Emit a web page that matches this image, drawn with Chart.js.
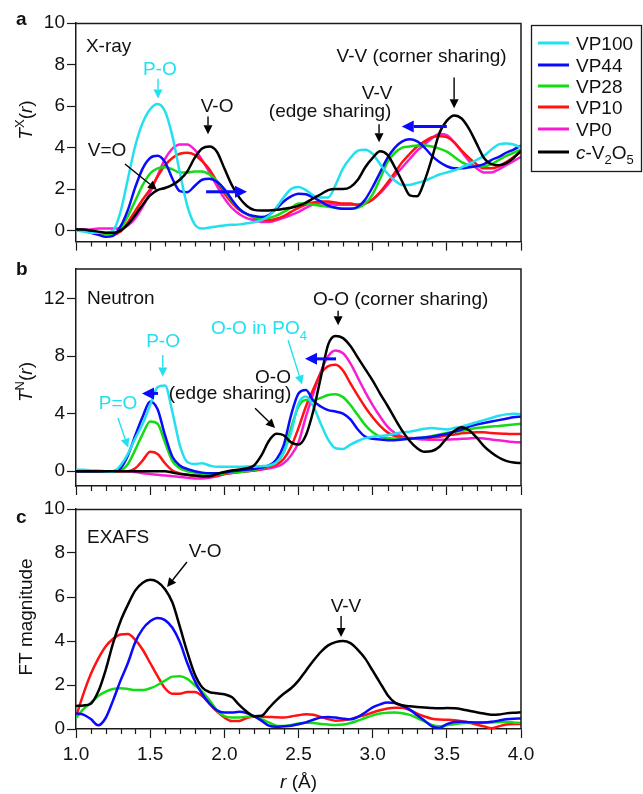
<!DOCTYPE html>
<html>
<head>
<meta charset="utf-8">
<script src="https://cdn.jsdelivr.net/npm/chart.js@4.4.1/dist/chart.umd.min.js"></script>
<style>
  html, body { margin: 0; padding: 0; background: #fff; }
  #wrap { position: relative; width: 643px; height: 794px; overflow: hidden; }
  #wrap canvas { position: absolute; left: 0; }
</style>
</head>
<body>
<div id="wrap">
  <canvas id="panelA" width="643" height="255" style="top:0px"></canvas>
  <canvas id="panelB" width="643" height="245" style="top:255px"></canvas>
  <canvas id="panelC" width="643" height="299" style="top:495px"></canvas>
</div>
<script>
// r grid (Å) shared by every curve
const rValues = [1.00,1.05,1.10,1.15,1.20,1.25,1.30,1.35,1.40,1.45,1.50,1.55,1.60,1.65,1.70,1.75,1.80,1.85,1.90,1.95,
  2.00,2.05,2.10,2.15,2.20,2.25,2.30,2.35,2.40,2.45,2.50,2.55,2.60,2.65,2.70,2.75,2.80,2.85,2.90,2.95,
  3.00,3.05,3.10,3.15,3.20,3.25,3.30,3.35,3.40,3.45,3.50,3.55,3.60,3.65,3.70,3.75,3.80,3.85,3.90,3.95,4.00];

const rMajor = [1.0, 1.5, 2.0, 2.5, 3.0, 3.5, 4.0];
const rMinor = [1.1,1.2,1.3,1.4,1.6,1.7,1.8,1.9,2.1,2.2,2.3,2.4,2.6,2.7,2.8,2.9,3.1,3.2,3.3,3.4,3.6,3.7,3.8,3.9];
const yTicksA = [0, 2, 4, 6, 8, 10];
const yTicksB = [0, 4, 8, 12];
const yTicksC = [0, 2, 4, 6, 8, 10];

const seriesNames = ['VP100', 'VP44', 'VP28', 'VP10', 'VP0', 'c-V2O5'];

// a: X-ray T(r)
const xrayVP100 = [0.0,-0.05,-0.1,-0.1,-0.1,0.0,0.9,2.5,4.1,5.2,5.85,6.1,5.75,4.55,2.8,1.2,0.3,0.1,0.15,0.2,0.25,0.28,0.3,0.35,0.4,0.5,0.7,1.1,1.6,2.0,2.1,1.95,1.7,1.6,1.6,2.2,3.0,3.5,3.85,3.9,3.7,3.2,2.75,2.4,2.2,2.2,2.3,2.4,2.55,2.7,2.8,2.9,3.05,3.2,3.4,3.6,3.9,4.15,4.2,4.15,4.0];
const xrayVP44 = [0.05,0.0,-0.1,-0.2,-0.3,-0.25,0.2,1.0,2.1,3.0,3.5,3.6,3.3,2.5,1.9,1.85,2.15,2.45,2.5,2.35,2.0,1.5,1.05,0.8,0.7,0.65,0.75,1.05,1.4,1.65,1.78,1.75,1.6,1.4,1.2,1.1,1.05,1.05,1.15,1.5,2.1,2.8,3.5,4.0,4.3,4.4,4.3,4.0,3.6,3.3,3.1,3.0,3.0,3.05,3.1,3.2,3.4,3.55,3.75,3.9,4.1];
const xrayVP28 = [0.05,0.0,-0.05,-0.1,-0.15,-0.15,0.1,0.7,1.45,2.2,2.75,3.0,3.05,2.95,2.8,2.8,2.85,2.85,2.7,2.4,1.95,1.45,1.05,0.8,0.65,0.57,0.6,0.72,0.9,1.1,1.3,1.3,1.25,1.2,1.15,1.1,1.05,1.05,1.1,1.3,1.75,2.5,3.3,3.75,4.0,4.05,4.1,4.1,4.05,3.95,3.8,3.55,3.3,3.15,3.1,3.1,3.2,3.4,3.6,3.75,3.9];
const xrayVP10 = [0.05,0.0,-0.05,-0.1,-0.15,-0.2,-0.05,0.4,0.95,1.5,2.0,2.6,3.15,3.5,3.7,3.75,3.65,3.35,2.95,2.35,1.8,1.35,1.0,0.8,0.62,0.52,0.5,0.57,0.7,0.9,1.1,1.25,1.35,1.4,1.4,1.35,1.3,1.3,1.25,1.3,1.5,1.85,2.3,2.8,3.3,3.7,4.05,4.3,4.5,4.55,4.5,4.25,3.85,3.5,3.2,3.0,3.0,3.1,3.3,3.55,3.8];
const xrayVP0 = [0.05,0.05,0.05,0.1,0.1,0.1,0.1,0.25,0.6,1.15,1.85,2.65,3.45,3.95,4.15,4.15,3.9,3.4,2.8,2.15,1.55,1.1,0.8,0.6,0.5,0.42,0.42,0.5,0.62,0.75,0.9,1.1,1.25,1.3,1.3,1.25,1.25,1.25,1.25,1.35,1.5,1.8,2.2,2.65,3.05,3.45,3.85,4.15,4.45,4.65,4.6,4.25,3.8,3.35,3.0,2.8,2.8,2.95,3.15,3.35,3.55];
const xrayV2O5 = [0.05,0.05,0.0,-0.05,-0.1,-0.1,0.0,0.3,0.75,1.25,1.7,1.95,2.05,2.2,2.45,2.85,3.5,3.95,4.05,3.8,3.0,2.2,1.6,1.2,1.0,0.97,0.97,1.0,1.05,1.1,1.2,1.35,1.55,1.75,1.95,2.0,2.0,2.1,2.45,3.05,3.5,3.82,3.65,3.05,2.35,1.7,1.65,2.4,3.5,4.7,5.3,5.55,5.4,4.9,4.2,3.5,3.2,3.15,3.25,3.5,3.85];

// b: neutron T(r)
const neutronVP100 = [0.1,0.1,0.05,0.05,0.0,-0.05,0.4,1.2,2.3,3.3,4.6,5.85,5.95,4.1,1.8,0.65,0.5,0.55,0.4,0.3,0.3,0.3,0.3,0.32,0.34,0.35,0.4,0.6,1.3,2.7,4.7,5.2,4.5,3.3,2.2,1.6,1.55,1.85,2.1,2.3,2.4,2.45,2.5,2.6,2.7,2.75,2.85,2.95,3.0,2.95,2.9,3.0,3.1,3.25,3.4,3.55,3.7,3.85,3.95,4.0,3.95];
const neutronVP44 = [0,0,0,0,0,0,0.2,1.1,2.5,3.8,4.85,4.3,2.5,1.0,0.4,0.15,0.0,-0.1,-0.15,-0.15,-0.1,0.0,0.05,0.1,0.15,0.25,0.4,0.8,1.8,3.9,5.4,5.65,4.9,4.5,4.25,4.15,4.0,3.6,2.9,2.4,2.25,2.2,2.15,2.15,2.2,2.25,2.3,2.35,2.4,2.5,2.6,2.75,2.9,3.1,3.25,3.35,3.45,3.55,3.65,3.75,3.8];
const neutronVP28 = [0,0,0,0,0,0,0.05,0.5,1.5,2.6,3.45,3.3,2.0,0.7,0.2,0.0,-0.1,-0.2,-0.2,-0.2,-0.15,-0.1,-0.05,0.0,0.08,0.2,0.35,0.6,1.3,3.0,4.5,4.95,4.95,5.1,5.3,5.35,5.15,4.6,3.9,3.2,2.7,2.4,2.3,2.25,2.25,2.28,2.3,2.35,2.45,2.55,2.65,2.75,2.8,2.9,3.0,3.05,3.1,3.15,3.2,3.25,3.3];
const neutronVP10 = [0,0,0,0,0,0,0,0,0.2,0.75,1.35,1.2,0.55,0.05,-0.15,-0.25,-0.32,-0.38,-0.37,-0.3,-0.2,-0.12,-0.06,0.0,0.05,0.15,0.3,0.45,0.85,1.7,3.0,4.5,5.7,6.8,7.3,7.4,7.0,6.1,5.25,4.45,3.75,3.15,2.7,2.45,2.35,2.3,2.28,2.3,2.35,2.4,2.5,2.55,2.63,2.68,2.7,2.7,2.65,2.62,2.6,2.58,2.58];
const neutronVP0 = [0,0,0,0,0,0,0,0,-0.05,-0.15,-0.2,-0.25,-0.3,-0.35,-0.4,-0.45,-0.5,-0.5,-0.45,-0.35,-0.2,-0.12,-0.05,0.0,0.05,0.1,0.2,0.3,0.55,1.1,2.0,3.8,5.4,6.9,8.0,8.4,8.2,7.5,6.5,5.5,4.6,3.8,3.1,2.65,2.4,2.28,2.24,2.2,2.18,2.18,2.2,2.22,2.25,2.28,2.3,2.28,2.2,2.15,2.08,2.03,2.0];
const neutronV2O5 = [0,0,0,0,0,0,0,0,0,0,0,0,0,-0.1,-0.2,-0.25,-0.3,-0.35,-0.35,-0.2,-0.05,0.05,0.12,0.2,0.4,1.1,2.1,2.6,2.5,2.0,1.85,2.5,4.2,6.5,8.8,9.4,9.25,8.7,7.9,7.1,6.3,5.4,4.55,3.65,2.8,2.1,1.6,1.35,1.4,1.7,2.3,2.8,3.05,2.85,2.35,1.75,1.3,0.95,0.72,0.6,0.57];

// c: EXAFS FT magnitude
const exafsVP44 = [0.7,0.65,0.45,0.17,0.5,1.3,2.2,3.0,3.95,4.55,4.9,5.05,4.95,4.6,3.95,3.0,2.2,1.6,1.15,0.85,0.75,0.75,0.78,0.72,0.58,0.38,0.15,0.1,0.12,0.15,0.22,0.3,0.42,0.52,0.55,0.52,0.47,0.44,0.55,0.75,0.98,1.12,1.2,1.18,1.05,0.88,0.62,0.38,0.12,0.05,0.22,0.32,0.33,0.31,0.29,0.3,0.33,0.38,0.44,0.47,0.48];
const exafsVP28 = [0.5,0.9,1.2,1.5,1.7,1.82,1.85,1.82,1.77,1.77,1.85,2.0,2.2,2.38,2.4,2.28,2.0,1.7,1.3,0.85,0.58,0.52,0.52,0.56,0.56,0.45,0.3,0.15,0.14,0.18,0.25,0.28,0.27,0.23,0.2,0.18,0.2,0.27,0.38,0.5,0.62,0.7,0.74,0.75,0.72,0.64,0.5,0.35,0.18,0.12,0.17,0.22,0.26,0.27,0.28,0.29,0.3,0.32,0.32,0.3,0.27];
const exafsVP10 = [0.55,1.6,2.5,3.2,3.75,4.1,4.3,4.32,4.05,3.6,3.0,2.4,1.85,1.6,1.6,1.68,1.68,1.5,1.15,0.8,0.52,0.36,0.36,0.5,0.56,0.56,0.55,0.53,0.52,0.57,0.63,0.67,0.65,0.55,0.45,0.38,0.4,0.45,0.55,0.63,0.75,0.85,0.93,0.97,0.97,0.86,0.7,0.57,0.47,0.43,0.42,0.4,0.35,0.29,0.2,0.12,0.03,0.12,0.2,0.23,0.23];
const exafsV2O5 = [1.05,1.07,1.15,1.7,2.68,3.9,4.9,5.65,6.3,6.65,6.78,6.68,6.35,5.75,4.65,3.5,2.5,1.9,1.68,1.62,1.58,1.45,1.1,0.8,0.58,0.6,0.95,1.3,1.6,1.85,2.2,2.65,3.1,3.5,3.8,3.95,4.0,3.9,3.6,3.2,2.65,2.1,1.55,1.2,1.08,1.03,1.0,0.98,0.95,0.94,0.95,0.94,0.9,0.83,0.76,0.7,0.65,0.66,0.71,0.74,0.76];

// styles
const FONT = '"Liberation Sans", Arial, Helvetica, sans-serif';
const AXIS = '#1a1a1a';
const INK = '#111111';
const CYAN = '#22e0ee';
const BLUE = '#0a0aff';
const GREEN = '#14dc14';
const RED = '#ff1212';
const MAGENTA = '#f71ed2';
const BLACK = '#000000';
const seriesColors = [CYAN, BLUE, GREEN, RED, MAGENTA, BLACK];

Chart.defaults.font.family = FONT;
Chart.defaults.color = INK;

const series = (idx, values) => ({
    label: seriesNames[idx],
    data: rValues.map((r, i) => ({ x: r, y: values[i] })),
    borderColor: seriesColors[idx],
    backgroundColor: seriesColors[idx],
    fill: false,
    order: idx === 5 ? 0 : 1
});

// text with italic / sub / superscript pieces
function rich(ctx, parts, x, y, align, size) {
    const fontFor = p => `${p.it ? 'italic ' : ''}${p.b ? 'bold ' : ''}${(p.sub || p.sup) ? Math.round(size * 0.68) : size}px ${FONT}`;
    let w = 0;
    parts.forEach(p => { ctx.font = fontFor(p); w += ctx.measureText(p.t).width; });
    let cx = align === 'center' ? x - w / 2 : align === 'right' ? x - w : x;
    ctx.textAlign = 'left';
    ctx.textBaseline = 'alphabetic';
    parts.forEach(p => {
        ctx.font = fontFor(p);
        const dy = p.sub ? size * 0.28 : p.sup ? -size * 0.42 : 0;
        ctx.fillText(p.t, cx, y + dy);
        cx += ctx.measureText(p.t).width;
    });
}

function arrow(ctx, x1, y1, x2, y2, color, lw, head, half) {
    const a = Math.atan2(y2 - y1, x2 - x1);
    const bx = x2 - Math.cos(a) * head, by = y2 - Math.sin(a) * head;
    ctx.strokeStyle = color;
    ctx.lineWidth = lw;
    ctx.beginPath(); ctx.moveTo(x1, y1); ctx.lineTo(bx, by); ctx.stroke();
    ctx.fillStyle = color;
    ctx.beginPath();
    ctx.moveTo(x2, y2);
    ctx.lineTo(bx + Math.sin(a) * half, by - Math.cos(a) * half);
    ctx.lineTo(bx - Math.sin(a) * half, by + Math.cos(a) * half);
    ctx.closePath();
    ctx.fill();
}

const labelParts = name => name === 'c-V2O5'
    ? [{ t: 'c', it: 1 }, { t: '-V' }, { t: '2', sub: 1 }, { t: 'O' }, { t: '5', sub: 1 }]
    : [{ t: name }];

const legendRows = [43, 65, 86, 107, 129, 152];

const decor = {
    id: 'decor',
    afterDraw(chart, args, o) {
        const { ctx, chartArea: ca, scales: { x, y } } = chart;
        ctx.save();

        // box: top and right edges
        ctx.strokeStyle = AXIS;
        ctx.lineWidth = 1.5;
        ctx.beginPath();
        ctx.moveTo(ca.left, ca.top + 0.5);
        ctx.lineTo(ca.right, ca.top + 0.5);
        ctx.lineTo(ca.right, ca.bottom);
        ctx.stroke();

        // minor r ticks
        ctx.lineWidth = 1.2;
        ctx.beginPath();
        rMinor.forEach(v => {
            const px = Math.round(x.getPixelForValue(v)) + 0.5;
            ctx.moveTo(px, ca.bottom);
            ctx.lineTo(px, ca.bottom + 5);
        });
        ctx.stroke();

        // panel letter
        ctx.fillStyle = INK;
        rich(ctx, [{ t: o.letter, b: 1 }], o.letterPos[0], o.letterPos[1], 'left', 19);

        // y title (rotated)
        ctx.save();
        ctx.translate(o.yTitlePos[0], o.yTitlePos[1]);
        ctx.rotate(-Math.PI / 2);
        rich(ctx, o.yTitle, 0, 0, 'center', 19);
        ctx.restore();

        if (o.xTitle) rich(ctx, o.xTitle, (ca.left + ca.right) / 2, o.xTitleY, 'center', 19);

        (o.notes || []).forEach(n => {
            ctx.fillStyle = n.color || INK;
            rich(ctx, n.parts || [{ t: n.text }], x.getPixelForValue(n.r), y.getPixelForValue(n.v), n.align || 'center', 19);
        });

        (o.arrows || []).forEach(a => {
            const big = a.color === BLUE;
            arrow(ctx, x.getPixelForValue(a.r1), y.getPixelForValue(a.v1),
                x.getPixelForValue(a.r2), y.getPixelForValue(a.v2),
                a.color || BLACK, big ? 3 : 1.4, big ? 12 : 9, big ? 6 : 4.5);
        });

        if (o.legend) {
            ctx.strokeStyle = AXIS;
            ctx.lineWidth = 1.3;
            ctx.strokeRect(531.5, 25.5, 110, 146);
            chart.data.datasets.forEach((ds, i) => {
                const ly = legendRows[i];
                ctx.strokeStyle = ds.borderColor;
                ctx.lineWidth = 3;
                ctx.beginPath(); ctx.moveTo(538, ly); ctx.lineTo(569, ly); ctx.stroke();
                ctx.fillStyle = INK;
                rich(ctx, labelParts(ds.label), 576, ly + 7, 'left', 19);
            });
        }
        ctx.restore();
    }
};

function makeChart(id, datasets, yMin, yMax, yTicks, padTop, xHeight, showX, decorOpts) {
    return new Chart(document.getElementById(id), {
        type: 'line',
        data: { datasets },
        options: {
            responsive: false,
            animation: false,
            devicePixelRatio: 1,
            layout: { padding: { left: 0, right: 122, top: padTop, bottom: 0 } },
            elements: {
                point: { radius: 0 },
                line: { borderWidth: 2.5, cubicInterpolationMode: 'monotone' }
            },
            plugins: { legend: { display: false }, tooltip: { enabled: false }, decor: decorOpts },
            scales: {
                x: {
                    type: 'linear', min: 1, max: 4,
                    afterBuildTicks: s => { s.ticks = rMajor.map(v => ({ value: v })); },
                    afterFit: s => { s.height = xHeight; },
                    grid: { drawOnChartArea: false, tickLength: 9, tickColor: AXIS, tickWidth: 1.2 },
                    border: { color: AXIS, width: 1.5 },
                    ticks: {
                        display: showX, autoSkip: false, maxRotation: 0, padding: 5,
                        font: { size: 19 }, color: INK,
                        callback: v => Number(v).toFixed(1)
                    }
                },
                y: {
                    min: yMin, max: yMax,
                    afterBuildTicks: s => { s.ticks = yTicks.map(v => ({ value: v })); },
                    afterFit: s => { s.width = 76; },
                    grid: { drawOnChartArea: false, tickLength: 9, tickColor: AXIS, tickWidth: 1.2 },
                    border: { color: AXIS, width: 1.5 },
                    ticks: { autoSkip: false, padding: 2, font: { size: 19 }, color: INK }
                }
            }
        },
        plugins: [decor]
    });
}

// panel a
makeChart('panelA', [
    series(0, xrayVP100), series(1, xrayVP44), series(2, xrayVP28),
    series(3, xrayVP10), series(4, xrayVP0), series(5, xrayV2O5)
], -0.53, 10, yTicksA, 23, 12, false, {
    letter: 'a', letterPos: [16, 25], legend: true,
    yTitle: [{ t: 'T', it: 1 }, { t: 'X', sup: 1 }, { t: '(' }, { t: 'r', it: 1 }, { t: ')' }],
    yTitlePos: [32, 120],
    notes: [
        { text: 'X-ray', r: 1.067, v: 8.61, align: 'left' },
        { text: 'P-O', r: 1.566, v: 7.51, color: CYAN },
        { text: 'V-O', r: 1.951, v: 5.69 },
        { text: 'V=O', r: 1.209, v: 3.59 },
        { text: 'V-V', r: 3.03, v: 6.32 },
        { text: '(edge sharing)', r: 2.713, v: 5.45 },
        { text: 'V-V (corner sharing)', r: 3.33, v: 8.13 }
    ],
    arrows: [
        { r1: 1.553, v1: 7.32, r2: 1.553, v2: 6.36, color: CYAN },
        { r1: 1.89, v1: 5.5, r2: 1.89, v2: 4.64 },
        { r1: 1.33, v1: 3.21, r2: 1.546, v2: 1.96 },
        { r1: 1.877, v1: 1.87, r2: 2.153, v2: 1.87, color: BLUE },
        { r1: 3.043, v1: 5.12, r2: 3.043, v2: 4.26 },
        { r1: 3.549, v1: 7.37, r2: 3.549, v2: 5.89 },
        { r1: 3.5, v1: 5.02, r2: 3.196, v2: 5.02, color: BLUE }
    ]
});

// panel b
makeChart('panelB', [
    series(0, neutronVP100), series(1, neutronVP44), series(2, neutronVP28),
    series(3, neutronVP10), series(4, neutronVP0), series(5, neutronV2O5)
], -1.03, 14.1, yTicksB, 10, 14, false, {
    letter: 'b', letterPos: [16, 20],
    yTitle: [{ t: 'T', it: 1 }, { t: 'N', sup: 1 }, { t: '(' }, { t: 'r', it: 1 }, { t: ')' }],
    yTitlePos: [32, 127],
    notes: [
        { text: 'Neutron', r: 1.074, v: 11.6, align: 'left' },
        { text: 'P-O', r: 1.587, v: 8.63, color: CYAN },
        { text: 'P=O', r: 1.283, v: 4.32, color: CYAN },
        { text: 'O-O', r: 2.328, v: 6.1 },
        { text: '(edge sharing)', r: 2.038, v: 5.0 },
        { parts: [{ t: 'O-O in PO' }, { t: '4', sub: 1 }], r: 1.91, v: 9.52, align: 'left', color: CYAN },
        { text: 'O-O (corner sharing)', r: 2.598, v: 11.58, align: 'left' }
    ],
    arrows: [
        { r1: 1.585, v1: 8.08, r2: 1.585, v2: 6.58, color: CYAN },
        { r1: 1.283, v1: 3.70, r2: 1.351, v2: 1.64, color: CYAN },
        { r1: 1.553, v1: 5.41, r2: 1.445, v2: 5.41, color: BLUE },
        { r1: 2.207, v1: 4.38, r2: 2.342, v2: 3.01 },
        { r1: 2.43, v1: 9.11, r2: 2.524, v2: 6.03, color: CYAN },
        { r1: 2.753, v1: 7.81, r2: 2.544, v2: 7.81, color: BLUE },
        { r1: 2.767, v1: 11.16, r2: 2.767, v2: 10.14 }
    ]
});

// panel c
makeChart('panelC', [
    series(1, exafsVP44), series(2, exafsVP28), series(3, exafsVP10), series(5, exafsV2O5)
], 0, 10, yTicksC, 14, 65, true, {
    letter: 'c', letterPos: [16, 28],
    yTitle: [{ t: 'FT magnitude' }],
    yTitlePos: [32, 122],
    xTitle: [{ t: 'r', it: 1 }, { t: ' (Å)' }],
    xTitleY: 293,
    notes: [
        { text: 'EXAFS', r: 1.074, v: 8.45, align: 'left' },
        { text: 'V-O', r: 1.87, v: 7.82 },
        { text: 'V-V', r: 2.82, v: 5.32 }
    ],
    arrows: [
        { r1: 1.748, v1: 7.59, r2: 1.614, v2: 6.45 },
        { r1: 2.787, v1: 5.14, r2: 2.787, v2: 4.18 }
    ]
});
</script>
</body>
</html>
